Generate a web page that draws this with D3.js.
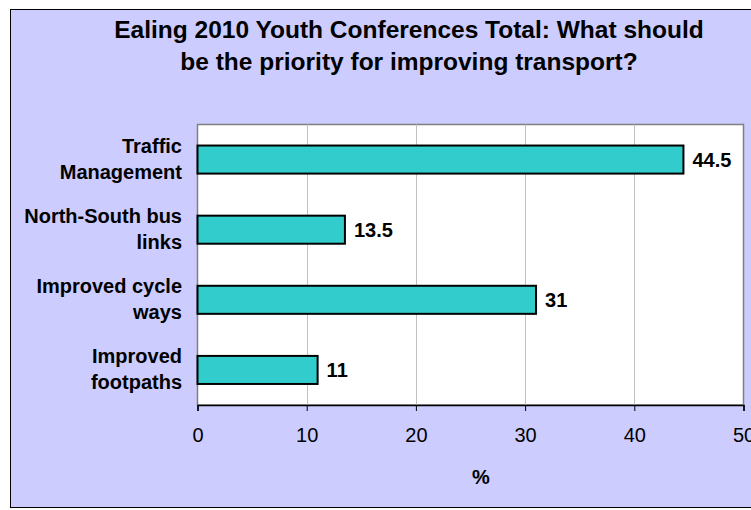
<!DOCTYPE html>
<html>
<head>
<meta charset="utf-8">
<script src="https://cdn.jsdelivr.net/npm/d3@7"></script>
<style>
  html, body { margin: 0; padding: 0; background: #ffffff; }
  svg { display: block; font-family: Arial, "Liberation Sans", sans-serif; }
</style>
</head>
<body>
<svg id="chart" width="751" height="510"></svg>
<script>
// Survey results: share of responses (%) per transport priority
const categories = [
  ["Traffic", "Management"],
  ["North-South bus", "links"],
  ["Improved cycle", "ways"],
  ["Improved", "footpaths"]
];
const values = [44.5, 13.5, 31, 11];
const xTicks = [0, 10, 20, 30, 40, 50];
const titleLines = [
  "Ealing 2010 Youth Conferences Total: What should",
  "be the priority for improving transport?"
];
const axisTitle = "%";

const svg = d3.select("#chart");

// Outer chart area
svg.append("rect")
  .attr("x", 10.5).attr("y", 9.5)
  .attr("width", 760).attr("height", 498)
  .attr("fill", "#ccccff")
  .attr("stroke", "#000").attr("stroke-width", 1);

// Title
svg.append("g").selectAll("text")
  .data(titleLines)
  .join("text")
  .attr("x", 409)
  .attr("y", (d, i) => 38 + i * 32)
  .attr("text-anchor", "middle")
  .attr("font-size", 24.5)
  .attr("font-weight", "bold")
  .attr("fill", "#000")
  .text(d => d);

// Plot area
const plot = { left: 197.5, right: 743.5, top: 124.5, bottom: 405 };

const x = d3.scaleLinear().domain([0, 50]).range([plot.left, plot.right]);
const y = d3.scaleBand()
  .domain(d3.range(categories.length))
  .range([plot.top, plot.bottom])
  .paddingInner(0.6)
  .paddingOuter(0.3);

svg.append("rect")
  .attr("x", plot.left).attr("y", plot.top)
  .attr("width", plot.right - plot.left).attr("height", plot.bottom - plot.top)
  .attr("fill", "#ffffff")
  .attr("stroke", "#808080").attr("stroke-width", 1.5);

// Vertical gridlines
svg.append("g").selectAll("line")
  .data(xTicks.slice(1, -1))
  .join("line")
  .attr("x1", d => Math.round(x(d)) + 0.5).attr("x2", d => Math.round(x(d)) + 0.5)
  .attr("y1", plot.top).attr("y2", plot.bottom)
  .attr("stroke", "#c0c0c0").attr("stroke-width", 1);

// Bars
svg.append("g").selectAll("rect")
  .data(values)
  .join("rect")
  .attr("x", x(0))
  .attr("y", (d, i) => y(i))
  .attr("width", d => x(d) - x(0))
  .attr("height", y.bandwidth())
  .attr("fill", "#33cccc")
  .attr("stroke", "#000")
  .attr("stroke-width", 2);

// Value labels
svg.append("g").selectAll("text")
  .data(values)
  .join("text")
  .attr("x", d => x(d) + 9)
  .attr("y", (d, i) => y(i) + y.bandwidth() / 2)
  .attr("dy", "0.35em")
  .attr("font-size", 20)
  .attr("font-weight", "bold")
  .attr("fill", "#000")
  .text(d => d);

// Category labels (two lines each)
const catG = svg.append("g");
categories.forEach((lines, i) => {
  const cy = y(i) + y.bandwidth() / 2;
  catG.append("text")
    .attr("text-anchor", "end")
    .attr("font-size", 20)
    .attr("font-weight", "bold")
    .attr("fill", "#000")
    .selectAll("tspan")
    .data(lines)
    .join("tspan")
    .attr("x", 182)
    .attr("y", (d, j) => cy + (j === 0 ? -7 : 19))
    .text(d => d);
});

// X axis
const xAxis = d3.axisBottom(x).tickValues(xTicks).tickSize(6).tickPadding(17);
const axisG = svg.append("g")
  .attr("transform", `translate(0,${plot.bottom})`)
  .call(xAxis);
axisG.select(".domain").attr("stroke", "#000").attr("stroke-width", 1.5);
axisG.selectAll(".tick line").attr("stroke", "#000");
axisG.selectAll(".tick text")
  .attr("font-size", 20)
  .attr("font-family", "Arial, 'Liberation Sans', sans-serif")
  .attr("fill", "#000");

// Axis title
svg.append("text")
  .attr("x", 481)
  .attr("y", 484)
  .attr("text-anchor", "middle")
  .attr("font-size", 20)
  .attr("font-weight", "bold")
  .attr("fill", "#000")
  .text(axisTitle);
</script>
</body>
</html>
